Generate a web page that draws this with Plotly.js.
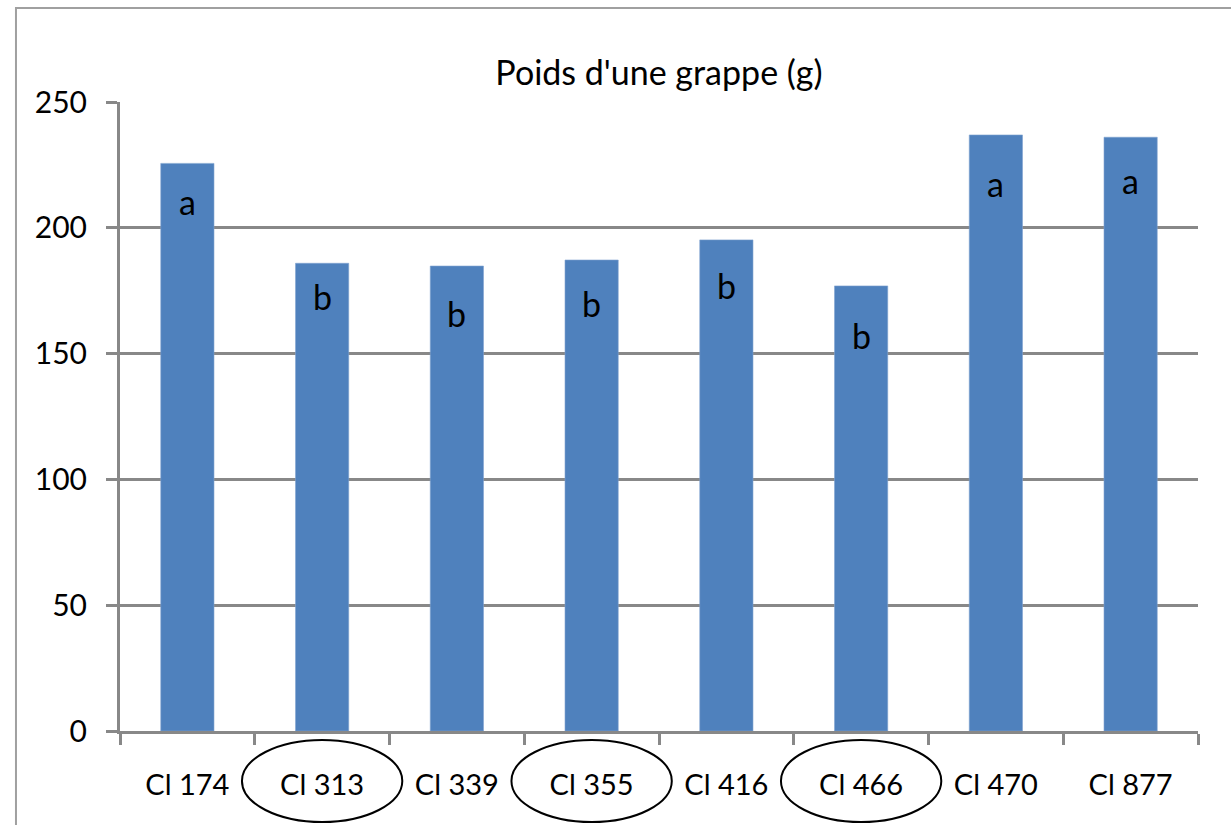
<!DOCTYPE html>
<html>
<head>
<meta charset="utf-8">
<script src="https://cdn.plot.ly/plotly-3.0.1.min.js"></script>
<style>html,body{margin:0;padding:0;background:#fff;}#chart{width:1231px;height:825px;}</style>
</head>
<body>
<div id="chart"></div>
<script>
const categories = ["Cl 174", "Cl 313", "Cl 339", "Cl 355", "Cl 416", "Cl 466", "Cl 470", "Cl 877"];
const weights = [225.6, 185.9, 184.8, 187.2, 195.2, 176.9, 236.9, 236.0];
const letters = ["a", "b", "b", "b", "b", "b", "a", "a"];
const letterY = [210.3, 172.5, 166.1, 170.1, 176.9, 157.0, 217.8, 219.0];
const circled = ["Cl 313", "Cl 355", "Cl 466"];
const yTicks = [0, 50, 100, 150, 200, 250];

const FONT = "Lato, 'Open Sans', sans-serif";

const trace = {
  type: "bar",
  x: categories,
  y: weights,
  width: 0.395,
  marker: {color: "#4F81BD", line: {color: "#7FA3D0", width: 0.6}},
  hoverinfo: "x+y"
};

const annotations = categories.map((c, i) => ({
  x: c, y: letterY[i], xref: "x", yref: "y",
  text: letters[i], showarrow: false,
  font: {family: FONT, size: 34, color: "#000"}
}));

const shapes = circled.map(c => {
  const i = categories.indexOf(c);
  return {
    type: "circle", xref: "x", yref: "paper",
    x0: i - 0.595, x1: i + 0.595, y0: -0.1447, y1: -0.0143,
    line: {color: "#000", width: 2}
  };
});
shapes.push({
  type: "rect", xref: "paper", yref: "paper",
  x0: -0.0965, x1: 1.05, y0: -0.2, y1: 1.1494,
  line: {color: "#A0A0A0", width: 2}, layer: "below"
});

const layout = {
  width: 1231, height: 825,
  margin: {l: 120, r: 33, t: 102, b: 94, pad: 0},
  paper_bgcolor: "#fff", plot_bgcolor: "#fff",
  showlegend: false,
  title: {text: "Poids d'une grappe (g)", x: 0.5, xref: "paper", y: 0.912, yanchor: "middle",
          font: {family: FONT, size: 34, color: "#000"}},
  xaxis: {
    type: "category",
    tickson: "boundaries",
    ticks: "outside", ticklen: 11, tickwidth: 3, tickcolor: "#888",
    showline: true, linecolor: "#888", linewidth: 3,
    showgrid: false,
    tickfont: {family: FONT, size: 29, color: "#000"},
    ticklabelstandoff: 26,
    range: [-0.5, 7.5]
  },
  yaxis: {
    range: [0, 250],
    tickvals: yTicks,
    ticktext: yTicks.map(String),
    ticks: "outside", ticklen: 11, tickwidth: 3, tickcolor: "#888",
    showline: true, linecolor: "#888", linewidth: 3,
    showgrid: true, gridcolor: "#888", gridwidth: 3,
    zeroline: false,
    tickfont: {family: FONT, size: 30, color: "#000"},
    ticklabelstandoff: 13
  },
  annotations: annotations,
  shapes: shapes
};

Plotly.newPlot("chart", [trace], layout, {displayModeBar: false, staticPlot: true});
</script>
</body>
</html>
